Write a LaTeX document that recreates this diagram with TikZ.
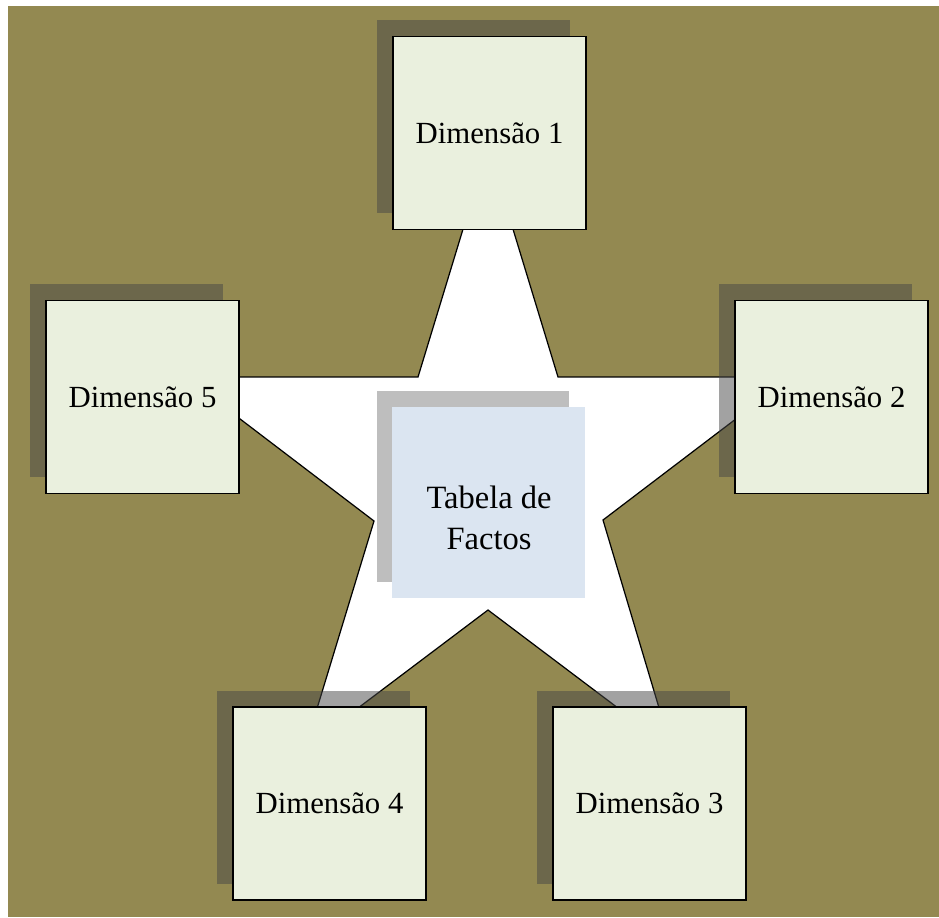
\documentclass[tikz,border=0pt]{standalone}
\usepackage{fontspec}
\setmainfont{Liberation Serif}
\usetikzlibrary{shadows}
\definecolor{fundo}{RGB}{147,137,81}
\definecolor{caixa}{RGB}{234,240,222}
\definecolor{factos}{RGB}{219,229,241}
\definecolor{sombra}{RGB}{70,70,70}
\definecolor{sombrafactos}{RGB}{190,190,190}

\begin{document}
\begin{tikzpicture}[
        x=0.02cm, y=-0.02cm,
        dimensao/.style={rectangle, draw=black, line width=1pt, fill=caixa, minimum size=3.86cm, inner sep=0pt,
            font=\fontsize{17.5}{20}\selectfont,
            drop shadow={shadow xshift=-0.32cm, shadow yshift=0.33cm, fill=sombra, opacity=0.5}},
        tabela/.style={rectangle, fill=factos, minimum width=3.86cm, minimum height=3.82cm, inner sep=0pt,
            drop shadow={shadow xshift=-0.31cm, shadow yshift=0.32cm, fill=sombrafactos, opacity=1}},
        textotabela/.style={align=center, inner sep=0pt, font=\fontsize{18.5}{23}\selectfont},
        estrela/.style={fill=white, draw=black, line width=0.7pt, line join=miter}
    ]
        \useasboundingbox[fill=white] (0,0) rectangle (939,917);
        \fill[fundo] (8,6) rectangle (939,917);

        % Estrela (fundo)
        \draw[estrela] (488,147) -- (558,377) -- (791,377) -- (603,520) -- (671,748)
            -- (488,610) -- (305,748) -- (374,521) -- (185,377) -- (418,377) -- cycle;

        % Tabela de factos (centro)
        \node[tabela] (factos) at (488.5,502.5) {};
        \node[textotabela] (tfactos) at (489,518) {Tabela de\\Factos};

        % Dimensoes (pontas da estrela)
        \node[dimensao] (d1) at (489.5,133) {Dimensão 1};
        \node[dimensao] (d2) at (831.5,397) {Dimensão 2};
        \node[dimensao] (d3) at (649.5,803.5) {Dimensão 3};
        \node[dimensao] (d4) at (329.5,803.5) {Dimensão 4};
        \node[dimensao] (d5) at (142.5,397) {Dimensão 5};
    \end{tikzpicture}
\end{document}
